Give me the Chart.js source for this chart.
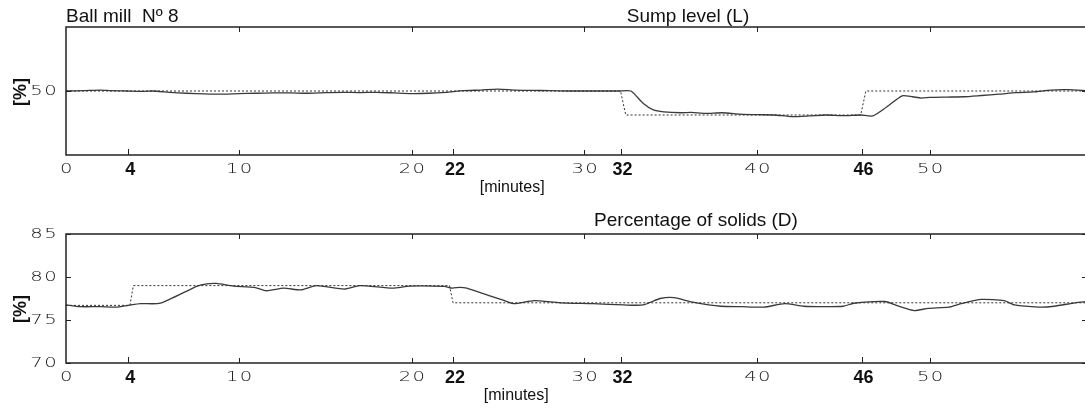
<!DOCTYPE html>
<html>
<head>
<meta charset="utf-8">
<script src="https://cdn.jsdelivr.net/npm/chart.js@4/dist/chart.umd.min.js"></script>
<style>
  html, body { margin: 0; padding: 0; background: #fff; overflow: hidden; width: 1085px; height: 410px; }
  .box { position: absolute; left: 0; width: 1090px; height: 205px; }
  #top { top: 0; }
  #bot { top: 205px; }
</style>
</head>
<body>
<div class="box" id="top"><canvas id="sump" width="1090" height="205"></canvas></div>
<div class="box" id="bot"><canvas id="solids" width="1090" height="205"></canvas></div>
<script>
// x axis (minutes)
var minuteTicks = [0, 10, 20, 30, 40, 50];
var eventMinutes = [3.6, 22.4, 32.1, 46.05];
var eventLabels = ['4', '22', '32', '46'];
var minuteMax = 59.1;

// Sump level (L)
var sumpSetTime = [0, 32.1, 32.4, 46.0, 46.3, 59.1];
var sumpSetpoint = [50, 50, 42.5, 42.5, 50, 50];
var sumpTime = [0, 1, 2, 2.6, 3.5, 4.5, 5, 6, 7, 8, 9, 10, 11, 12, 13, 14, 15, 16, 17, 18, 19, 20, 21, 22,
  23, 24, 25, 26, 27, 28, 29, 30, 31, 32, 32.7, 33.4, 34.0, 34.6, 35.6, 36.2, 37, 38, 39, 40, 41, 42, 43,
  44, 45, 46, 46.7, 47.5, 48.4, 49, 49.5, 50, 51, 52, 53, 54, 55, 56, 57, 58, 59.1];
var sumpLevel = [50, 50.1, 50.3, 50.1, 50, 49.9, 50, 49.6, 49.3, 49.1, 49.0, 49.2, 49.3, 49.4, 49.4, 49.3,
  49.5, 49.6, 49.5, 49.6, 49.4, 49.2, 49.3, 49.6, 50.1, 50.3, 50.6, 50.3, 50.2, 50.1, 50, 50, 50, 50, 50,
  46.2, 44.1, 43.5, 43.2, 43.3, 43.0, 43.2, 42.8, 42.6, 42.5, 42.0, 42.2, 42.5, 42.3, 42.5, 42.2, 45.0,
  48.5, 48.2, 47.8, 48.0, 48.1, 48.2, 48.6, 49.0, 49.5, 49.7, 50.3, 50.4, 50.1];
var sumpTicks = [50];

// Percentage of solids (D)
var solidsSetTime = [0, 3.7, 3.9, 22.2, 22.4, 59.1];
var solidsSetpoint = [76.7, 76.7, 79, 79, 77, 77];
var solidsTime = [0, 0.8, 2.0, 2.9, 3.6, 4.3, 5.45, 7.6, 8.15, 8.7, 9.7, 10.9, 11.6, 12.6, 13.6, 14.5,
  16.1, 17.0, 18.9, 19.9, 21.9, 22.35, 22.8, 23.2, 24.4, 25.3, 25.9, 27.1, 28.6, 30.5, 32.3, 33.4, 34.4,
  35.2, 36.2, 37.2, 37.9, 39.1, 40.4, 41.6, 42.7, 43.9, 45.0, 45.6, 47.4, 48.2, 49.1, 49.9, 51.1, 51.8,
  53.0, 54.3, 54.9, 56.3, 57.2, 58.4, 59.1];
var solidsMeasured = [76.75, 76.55, 76.55, 76.5, 76.7, 76.9, 76.95, 78.95, 79.2, 79.25, 78.95, 78.8, 78.4,
  78.7, 78.5, 79.0, 78.6, 79.0, 78.7, 78.95, 78.9, 78.7, 78.8, 78.7, 77.9, 77.3, 76.9, 77.25, 77.0, 76.9,
  76.75, 76.75, 77.5, 77.6, 77.1, 76.75, 76.6, 76.55, 76.5, 76.9, 76.6, 76.55, 76.6, 76.95, 77.15, 76.6,
  76.1, 76.35, 76.5, 76.9, 77.4, 77.25, 76.75, 76.5, 76.6, 77.0, 77.15];
var solidsTicks = [70, 75, 80, 85];

function pts(xs, ys) {
  return xs.map(function (x, i) { return { x: x, y: ys[i] }; });
}

var framePlugin = {
  id: 'frame',
  afterDraw: function (chart, args, o) {
    var ctx = chart.ctx, a = chart.chartArea;
    var xs = chart.scales.x, ys = chart.scales.y;
    ctx.save();

    // box
    ctx.strokeStyle = '#222';
    ctx.lineWidth = 1.5;
    ctx.strokeRect(a.left, a.top, a.right - a.left, a.bottom - a.top);

    // inside ticks
    ctx.lineWidth = 1;
    ctx.beginPath();
    minuteTicks.forEach(function (m) {
      if (m === 0) return;
      var x = Math.round(xs.getPixelForValue(m)) + 0.5;
      ctx.moveTo(x, a.top); ctx.lineTo(x, a.top + 5);
      ctx.moveTo(x, a.bottom); ctx.lineTo(x, a.bottom - 5);
    });
    eventMinutes.forEach(function (m) {
      var x = Math.round(xs.getPixelForValue(m)) + 0.5;
      ctx.moveTo(x, a.bottom); ctx.lineTo(x, a.bottom - 6);
    });
    o.yTicks.forEach(function (v) {
      var y = Math.round(ys.getPixelForValue(v)) + 0.5;
      ctx.moveTo(a.left, y); ctx.lineTo(a.left + 5, y);
      ctx.moveTo(a.right, y); ctx.lineTo(a.right - 5, y);
    });
    ctx.stroke();

    // thin plotter-style numbers
    function thin(txt, x, y, align) {
      ctx.save();
      ctx.translate(x, y);
      ctx.scale(1.4, 1);
      ctx.font = '200 14px "DejaVu Sans"';
      ctx.letterSpacing = '1px';
      ctx.fillStyle = '#111';
      ctx.textAlign = align;
      ctx.textBaseline = 'middle';
      ctx.fillText(txt, 0, 0);
      ctx.restore();
    }
    minuteTicks.forEach(function (m) {
      thin(String(m), xs.getPixelForValue(m) + 1, a.bottom + 14, 'center');
    });
    o.yTicks.forEach(function (v) {
      thin(String(v), a.left - 8, ys.getPixelForValue(v), 'right');
    });

    // bold event minutes
    ctx.fillStyle = '#111';
    ctx.font = 'bold 18px "Liberation Sans"';
    ctx.textAlign = 'center';
    ctx.textBaseline = 'middle';
    eventMinutes.forEach(function (m, i) {
      ctx.fillText(eventLabels[i], xs.getPixelForValue(m) + 2, a.bottom + 15);
    });

    // axis names
    ctx.font = '16px "Liberation Sans"';
    ctx.fillText('[minutes]', a.left + o.xLabelFrac * (a.right - a.left), a.bottom + 33);
    ctx.save();
    ctx.translate(21, o.yLabelY);
    ctx.rotate(-Math.PI / 2);
    ctx.font = 'bold 18px "Liberation Sans"';
    ctx.fillText('[%]', 0, 0);
    ctx.restore();

    // titles
    ctx.font = '19px "Liberation Sans"';
    ctx.textBaseline = 'alphabetic';
    ctx.textAlign = 'center';
    ctx.fillText(o.title, o.titleX, o.titleY);
    if (o.caption) {
      ctx.textAlign = 'left';
      ctx.fillText(o.caption, a.left, o.titleY);
    }
    ctx.restore();
  }
};

function makeChart(id, setT, setV, measT, measV, yMin, yMax, pad, frame) {
  return new Chart(document.getElementById(id).getContext('2d'), {
    type: 'line',
    data: {
      datasets: [
        {
          data: pts(setT, setV),
          borderColor: '#333',
          borderWidth: 1,
          borderDash: [2, 2],
          pointRadius: 0,
          tension: 0
        },
        {
          data: pts(measT, measV),
          borderColor: '#3a3a3a',
          borderWidth: 1.3,
          pointRadius: 0,
          tension: 0.2
        }
      ]
    },
    options: {
      responsive: false,
      animation: false,
      layout: { padding: pad },
      scales: {
        x: { type: 'linear', min: 0, max: minuteMax, display: false },
        y: { min: yMin, max: yMax, display: false }
      },
      plugins: {
        legend: { display: false },
        tooltip: { enabled: false },
        frame: frame
      }
    },
    plugins: [framePlugin]
  });
}

makeChart('sump', sumpSetTime, sumpSetpoint, sumpTime, sumpLevel, 30, 70,
  { left: 66, top: 27, right: 3, bottom: 50 },
  { yTicks: sumpTicks, title: 'Sump level (L)', caption: 'Ball mill  N\u00ba 8',
    titleX: 688, titleY: 22, yLabelY: 92, xLabelFrac: 0.437 });

makeChart('solids', solidsSetTime, solidsSetpoint, solidsTime, solidsMeasured, 70, 85,
  { left: 66, top: 29, right: 3, bottom: 47 },
  { yTicks: solidsTicks, title: 'Percentage of solids (D)',
    titleX: 696, titleY: 21, yLabelY: 104, xLabelFrac: 0.441 });
</script>
</body>
</html>
